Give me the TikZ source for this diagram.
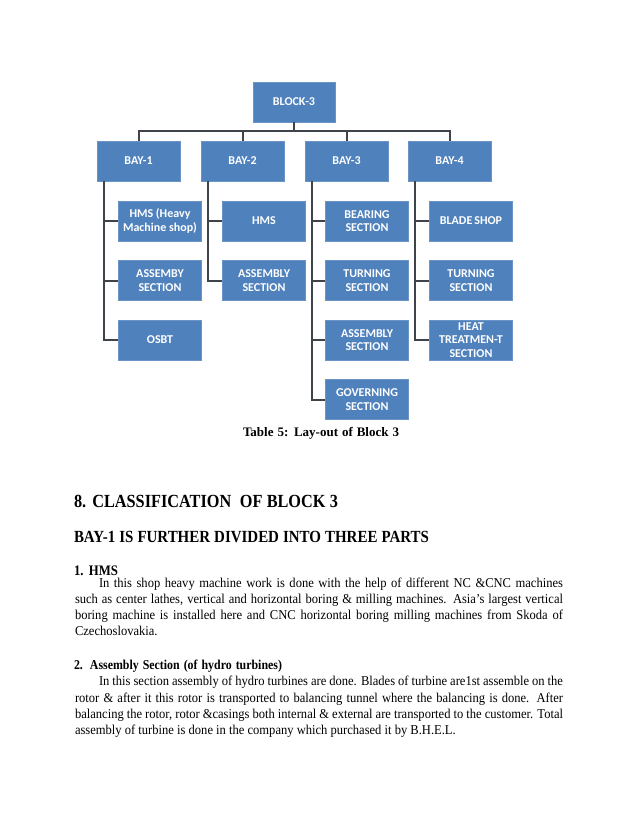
\documentclass[tikz,border=0pt]{standalone}
\usepackage{fontspec}
\setmainfont{Liberation Serif}
\newfontfamily\boxfont{Carlito}
\newfontfamily\condfont[FakeStretch=0.88]{Liberation Serif}
\newfontfamily\bodyfont[FakeStretch=0.93]{Liberation Serif}
\definecolor{boxblue}{HTML}{4F81BD}
\definecolor{boxedge}{HTML}{6A94C8}
\definecolor{linegray}{HTML}{3E4449}
\tikzset{
  orgbox/.style={fill=boxblue, draw=boxedge, line width=0.6pt, text=white,
    font=\boxfont\bfseries\fontsize{12}{13.3}\selectfont, align=center,
    minimum width=83pt, minimum height=40pt, inner sep=0pt},
  conn/.style={draw=linegray, line width=2pt},
  txt/.style={anchor=base west, inner sep=0pt, outer sep=0pt},
}
\begin{document}
\begin{tikzpicture}[x=1pt,y=-1pt]
\useasboundingbox[fill=white] (0,0) rectangle (638,826);
% top and bays
\node[orgbox, minimum width=82pt] (blk) at (294,102) {BLOCK-3};
\node[orgbox] (b1) at (138.5,161) {BAY-1};
\node[orgbox] (b2) at (242.5,161) {BAY-2};
\node[orgbox] (b3) at (346.5,161) {BAY-3};
\node[orgbox] (b4) at (449.5,161) {BAY-4};
\coordinate (bus) at (294,131);
\draw[conn] (blk.south) -- (bus);
\draw[conn] (b1.north) |- (bus);
\draw[conn] (b2.north) |- (bus);
\draw[conn] (b3.north) |- (bus);
\draw[conn] (b4.north) |- (bus);
% children
\node[orgbox] (c11) at (160,221) {HMS (Heavy\\Machine shop)};
\node[orgbox] (c12) at (160,280.5) {ASSEMBY\\SECTION};
\node[orgbox] (c13) at (160,340) {OSBT};
\node[orgbox] (c21) at (264,221) {HMS};
\node[orgbox] (c22) at (264,280.5) {ASSEMBLY\\SECTION};
\node[orgbox] (c31) at (367,221) {BEARING\\SECTION};
\node[orgbox] (c32) at (367,280.5) {TURNING\\SECTION};
\node[orgbox] (c33) at (367,340) {ASSEMBLY\\SECTION};
\node[orgbox] (c34) at (367,399.5) {GOVERNING\\SECTION};
\node[orgbox] (c41) at (471,221) {BLADE\,SHOP};
\node[orgbox] (c42) at (471,280.5) {TURNING\\SECTION};
\node[orgbox] (c43) at (471,340) {HEAT\\TREATMEN-T\\SECTION};
\coordinate (s1) at (104,181);
\coordinate (s2) at (208,181);
\coordinate (s3) at (312,181);
\coordinate (s4) at (415,181);
\draw[conn] (s1) |- (c13.west);
\draw[conn] (c11.west) -- (c11.west -| s1);
\draw[conn] (c12.west) -- (c12.west -| s1);
\draw[conn] (s2) |- (c22.west);
\draw[conn] (c21.west) -- (c21.west -| s2);
\draw[conn] (s3) |- (c34.west);
\draw[conn] (c31.west) -- (c31.west -| s3);
\draw[conn] (c32.west) -- (c32.west -| s3);
\draw[conn] (c33.west) -- (c33.west -| s3);
\draw[conn] (s4) |- (c43.west);
\draw[conn] (c41.west) -- (c41.west -| s4);
\draw[conn] (c42.west) -- (c42.west -| s4);
% caption and text
\node[txt] (cap) at (243,436.7) {\bfseries\fontsize{13}{15}\selectfont\makebox[156pt][s]{Table 5: Lay-out of Block 3}};
\node[txt] (h1) at (74,507.3) {\condfont\bfseries\fontsize{18.5}{22}\selectfont\makebox[264pt][s]{8. CLASSIFICATION \ OF BLOCK 3}};
\node[txt] (h2) at (74,542.3) {\condfont\bfseries\fontsize{17}{20}\selectfont\makebox[355pt][s]{BAY-1 IS FURTHER DIVIDED INTO THREE PARTS}};
\node[txt] (h3) at (74,575) {\condfont\bfseries\fontsize{14.5}{16}\selectfont\makebox[44pt][s]{1. HMS}};
\begin{scope}[every node/.append style={font=\bodyfont\fontsize{13.5}{16}\selectfont}]
\node[txt] (p1a) at (99,587) {\makebox[464pt][s]{In this shop heavy machine work is done with the help of different NC \&CNC machines}};
\node[txt] (p1b) at (75,603) {\makebox[488pt][s]{such as center lathes, vertical and horizontal boring \& milling machines. Asia’s largest vertical}};
\node[txt] (p1c) at (75,619) {\makebox[488pt][s]{boring machine is installed here and CNC horizontal boring milling machines from Skoda of}};
\node[txt] (p1d) at (75,635) {Czechoslovakia.};
\node[txt] (p2a) at (99,685.5) {\makebox[464pt][s]{In this section assembly of hydro turbines are done. Blades of turbine are1st assemble on the}};
\node[txt] (p2b) at (75,702) {\makebox[488pt][s]{rotor \& after it this rotor is transported to balancing tunnel where the balancing is done. After}};
\node[txt] (p2c) at (75,718) {\makebox[488pt][s]{balancing the rotor, rotor \&casings both internal \& external are transported to the customer. Total}};
\node[txt] (p2d) at (75,734) {assembly of turbine is done in the company which purchased it by B.H.E.L.};
\end{scope}
\node[txt] (h4) at (74,669) {\condfont\bfseries\fontsize{13.5}{16}\selectfont\makebox[208pt][s]{2. Assembly Section (of hydro turbines)}};
\end{tikzpicture}
\end{document}
